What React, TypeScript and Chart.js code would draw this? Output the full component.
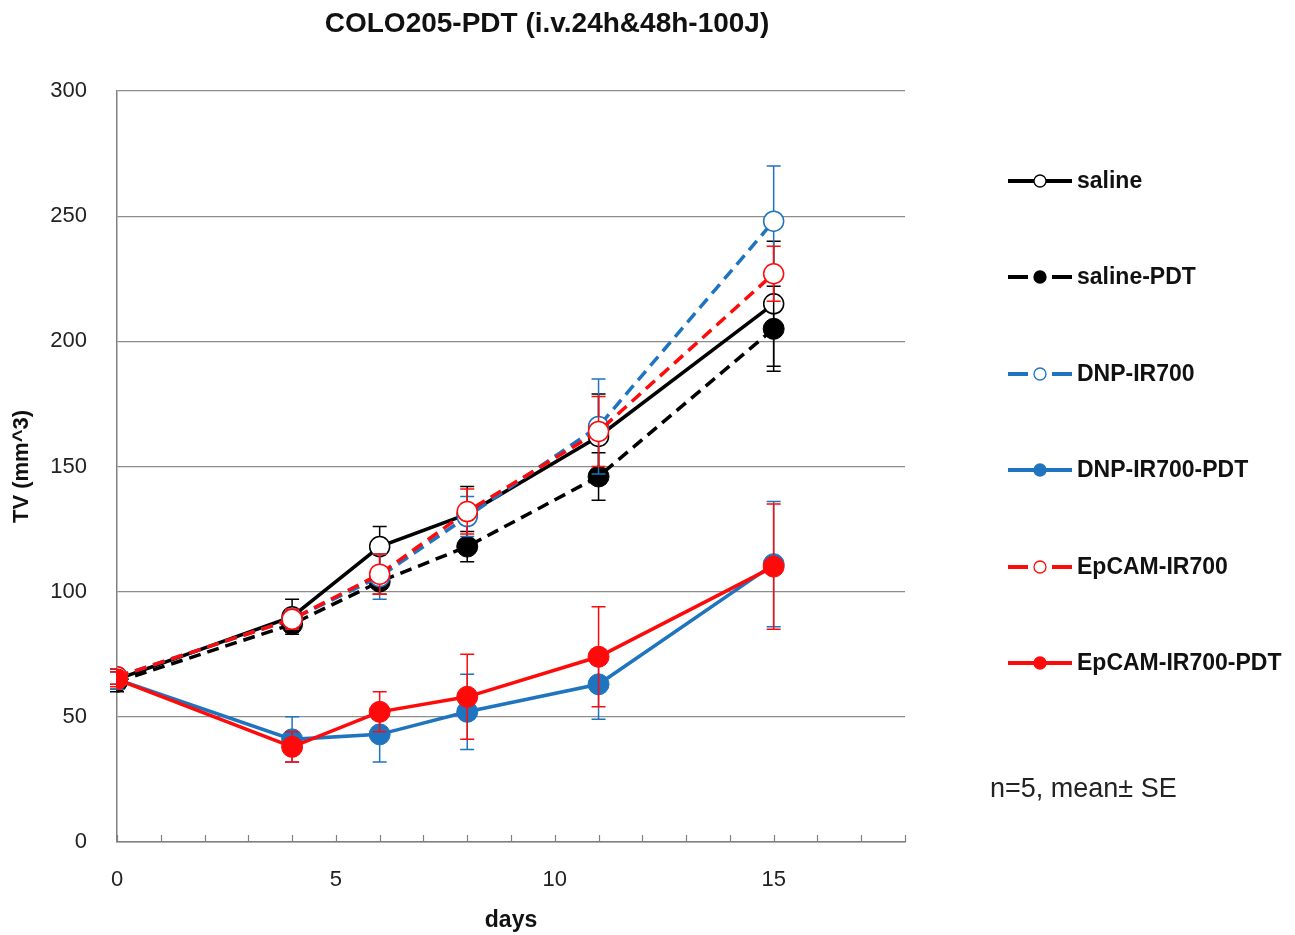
import React, { useEffect, useRef } from "react";
import { Chart, registerables } from "chart.js";

Chart.register(...registerables);

const days = [0, 4, 6, 8, 11, 15];
const seriesNames = ["saline", "saline-PDT", "DNP-IR700", "DNP-IR700-PDT", "EpCAM-IR700", "EpCAM-IR700-PDT"];
const saline = [65, 90, 118, 131, 162, 215];
const salineSE = [4, 7, 8, 11, 17, 25];
const salinePDT = [64, 87, 104, 118, 146, 205];
const salinePDTSE = [4, 3, 5, 6, 9.5, 17];
const dnp = [66, 89, 106, 130, 166, 248];
const dnpSE = [3, 4, 9, 8, 19, 22];
const dnpPDT = [65, 41, 43, 52, 63, 111];
const dnpPDTSE = [4, 9, 11, 15, 14, 25];
const epcam = [66, 89, 107, 132, 164, 227];
const epcamSE = [3, 4, 8, 9, 14, 11];
const epcamPDT = [65, 38, 52, 58, 74, 110];
const epcamPDTSE = [3, 6, 8, 17, 20, 25];
const yTicks = [0, 50, 100, 150, 200, 250, 300];
const xLabels = [0, 5, 10, 15];

const BLACK = "#000000";
const BLUE = "#1f74c0";
const RED = "#ff0a0a";

const seriesValues = [saline, salinePDT, dnp, dnpPDT, epcam, epcamPDT];
const seriesErrors = [salineSE, salinePDTSE, dnpSE, dnpPDTSE, epcamSE, epcamPDTSE];
const seriesColors = [BLACK, BLACK, BLUE, BLUE, RED, RED];
const seriesDashed = [false, true, true, false, true, false];
const seriesOpen = [true, false, true, false, true, false];

const FONT = '"Liberation Sans", Arial, sans-serif';

export default function App() {
  const ref = useRef<HTMLCanvasElement | null>(null);

  useEffect(() => {
    if (!ref.current) return;

    const datasets = seriesNames.map((name, k) => ({
      label: name,
      data: days.map((d, i) => ({ x: d, y: seriesValues[k][i] })),
      borderColor: seriesColors[k],
      backgroundColor: seriesColors[k],
      borderWidth: 3.5,
      borderDash: seriesDashed[k] ? [12, 7] : [],
      pointRadius: seriesOpen[k] ? 10 : 10.5,
      pointBorderWidth: seriesOpen[k] ? 1.5 : 1,
      pointBackgroundColor: seriesOpen[k] ? "#ffffff" : seriesColors[k],
      pointBorderColor: seriesColors[k],
      tension: 0,
      order: seriesNames.length - k,
    }));

    const errorBars = {
      id: "errorBars",
      beforeDatasetDraw(chart: any, args: any) {
        const k = args.index;
        const ys = chart.scales.y;
        const xs = chart.scales.x;
        const ctx = chart.ctx;
        ctx.save();
        ctx.strokeStyle = seriesColors[k];
        ctx.lineWidth = 1.5;
        ctx.setLineDash([]);
        days.forEach((d, i) => {
          const v = seriesValues[k][i];
          const e = seriesErrors[k][i];
          const px = xs.getPixelForValue(d);
          const top = ys.getPixelForValue(v + e);
          const bot = ys.getPixelForValue(v - e);
          ctx.beginPath();
          ctx.moveTo(px, top);
          ctx.lineTo(px, bot);
          ctx.moveTo(px - 7, top);
          ctx.lineTo(px + 7, top);
          ctx.moveTo(px - 7, bot);
          ctx.lineTo(px + 7, bot);
          ctx.stroke();
        });
        ctx.restore();
      },
    };

    const decorations = {
      id: "decorations",
      beforeDatasetsDraw(chart: any) {
        const ctx = chart.ctx;
        const xs = chart.scales.x;
        const base = chart.chartArea.bottom;
        ctx.save();
        ctx.strokeStyle = "#808080";
        ctx.lineWidth = 1.2;
        for (let v = xs.min; v <= xs.max; v += 1) {
          const px = Math.round(xs.getPixelForValue(v)) + 0.5;
          ctx.beginPath();
          ctx.moveTo(px, base);
          ctx.lineTo(px, base - 7);
          ctx.stroke();
        }
        ctx.restore();
      },
      afterDraw(chart: any) {
        const ctx = chart.ctx;
        ctx.save();
        // title
        ctx.fillStyle = "#111";
        ctx.font = `bold 28px ${FONT}`;
        ctx.textAlign = "center";
        ctx.textBaseline = "middle";
        ctx.fillText("COLO205-PDT (i.v.24h&48h-100J)", 547, 24);

        // legend
        const legendY = [181, 277, 374, 470, 567, 663];
        seriesNames.forEach((name, k) => {
          const y = legendY[k];
          ctx.strokeStyle = seriesColors[k];
          ctx.lineWidth = 4;
          ctx.beginPath();
          if (seriesDashed[k]) {
            ctx.moveTo(1008, y);
            ctx.lineTo(1028, y);
            ctx.moveTo(1052, y);
            ctx.lineTo(1072, y);
          } else {
            ctx.moveTo(1008, y);
            ctx.lineTo(1072, y);
          }
          ctx.stroke();
          ctx.beginPath();
          ctx.arc(1040, y, 6, 0, Math.PI * 2);
          ctx.fillStyle = seriesOpen[k] ? "#ffffff" : seriesColors[k];
          ctx.fill();
          ctx.lineWidth = 1.3;
          ctx.stroke();
          ctx.fillStyle = "#111";
          ctx.font = `bold 23px ${FONT}`;
          ctx.textAlign = "left";
          ctx.textBaseline = "middle";
          ctx.fillText(name, 1077, y + 1);
        });

        // note
        ctx.fillStyle = "#222";
        ctx.font = `27px ${FONT}`;
        ctx.textAlign = "left";
        ctx.textBaseline = "middle";
        ctx.fillText("n=5, mean\u00B1 SE", 990, 790);
        ctx.restore();
      },
    };

    const chart = new Chart(ref.current, {
      type: "line",
      data: { datasets },
      options: {
        animation: false,
        responsive: false,
        maintainAspectRatio: false,
        layout: { padding: { top: 91, right: 390, left: 0, bottom: 0 } },
        plugins: {
          legend: { display: false },
          title: { display: false },
          tooltip: { enabled: false },
        },
        scales: {
          x: {
            type: "linear",
            min: 0,
            max: 18,
            afterFit: (s: any) => {
              s.height = 93;
            },
            afterBuildTicks: (s: any) => {
              s.ticks = xLabels.map((v) => ({ value: v }));
            },
            grid: { display: false, drawTicks: false },
            border: { display: true, color: "#808080", width: 1.5 },
            ticks: {
              autoSkip: false,
              padding: 25,
              color: "#222",
              font: { family: FONT, size: 22 },
              maxRotation: 0,
            },
            title: {
              display: true,
              text: "days",
              color: "#111",
              font: { family: FONT, size: 23, weight: "bold" },
              padding: { top: 1, bottom: 1 },
            },
          },
          y: {
            min: 0,
            max: 300,
            afterFit: (s: any) => {
              s.width = 117;
            },
            afterBuildTicks: (s: any) => {
              s.ticks = yTicks.map((v) => ({ value: v }));
            },
            grid: { color: "#8c8c8c", lineWidth: 1.3, drawTicks: false },
            border: { display: true, color: "#808080", width: 1.5 },
            ticks: {
              padding: 30,
              color: "#222",
              font: { family: FONT, size: 22 },
            },
            title: {
              display: true,
              text: "TV (mm^3)",
              color: "#111",
              font: { family: FONT, size: 22, weight: "bold" },
              padding: { top: 9, bottom: 4 },
            },
          },
        },
      },
      plugins: [errorBars, decorations],
    } as any);

    return () => chart.destroy();
  }, []);

  return (
    <div style={{ position: "absolute", left: 0, top: 0, width: 1295, height: 935, background: "#fff" }}>
      <canvas ref={ref} width={1295} height={935} style={{ width: 1295, height: 935 }} />
    </div>
  );
}
